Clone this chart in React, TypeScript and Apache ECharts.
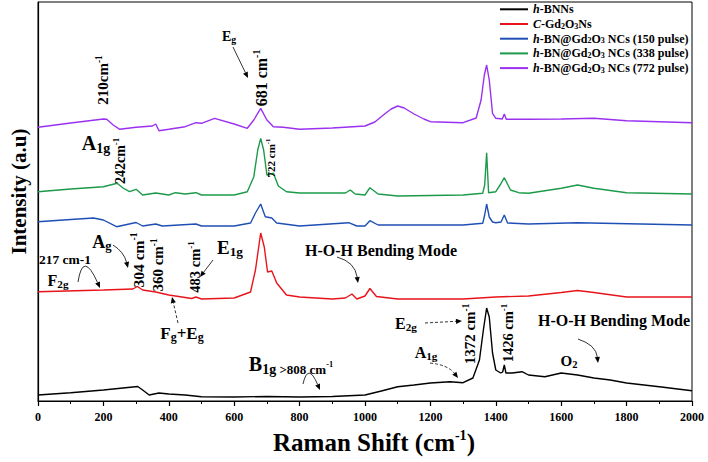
import React, { useEffect, useRef } from "react";
import * as echarts from "echarts";

const F = "'Liberation Serif','Times New Roman',serif";

// ---------- data (Raman shift in cm-1, stacked intensity in a.u.) ----------
const bnnsShift = [0, 100, 200, 290, 305, 320, 340, 370, 400, 450, 500, 600, 700, 800, 900, 1000, 1050, 1100, 1150, 1200, 1260, 1300, 1330, 1350, 1362, 1372, 1380, 1390, 1400, 1415, 1421, 1426, 1431, 1450, 1480, 1500, 1550, 1600, 1650, 1700, 1750, 1800, 1900, 2000];
const bnnsIntensity = [6, 8.3, 11, 14, 14.5, 11, 6, 8, 7, 6, 4.3, 4, 4.5, 4, 4.5, 6, 10, 14.3, 16, 18, 19.3, 18.3, 23, 41, 71, 93, 84, 48, 31, 28, 29, 36, 28, 28, 29.3, 26, 24.3, 28, 26, 23, 21, 18, 14.3, 10.3];

const gdShift = [0, 200, 290, 304, 320, 360, 400, 470, 483, 500, 600, 650, 665, 681, 692, 702, 715, 730, 760, 800, 900, 940, 960, 975, 1000, 1015, 1035, 1100, 1300, 1400, 1500, 1600, 1650, 1700, 1800, 2000];
const gdIntensity = [109.3, 111, 112, 114.5, 111, 109, 106, 102.5, 104, 102, 103, 109, 131, 168, 154, 129, 130, 118, 106, 104, 102, 103, 107, 102, 105, 112.5, 104.5, 102, 102, 104, 105, 108.5, 110.5, 108.5, 104, 104];

const p150Shift = [0, 100, 170, 200, 240, 300, 320, 360, 380, 483, 500, 600, 650, 665, 681, 695, 715, 730, 800, 950, 975, 1000, 1015, 1040, 1100, 1300, 1360, 1366, 1372, 1380, 1390, 1400, 1416, 1426, 1436, 1500, 1650, 2000];
const p150Intensity = [179.3, 181.5, 183, 181, 174.3, 178.5, 175, 177, 175, 177, 175, 175, 178, 188, 197, 184.3, 183, 178, 175, 178.3, 175, 175, 180.3, 176, 176, 176, 177.7, 186, 197, 184, 179, 178.3, 179, 186, 178, 177, 178.3, 176];

const p338Shift = [0, 100, 200, 242, 260, 280, 300, 320, 360, 400, 420, 450, 483, 500, 600, 640, 660, 672, 681, 690, 700, 720, 735, 760, 800, 940, 955, 970, 1000, 1015, 1040, 1100, 1300, 1360, 1366, 1372, 1378, 1400, 1415, 1426, 1445, 1470, 1500, 1600, 1650, 1700, 1800, 2000];
const p338Intensity = [209.3, 212, 214.3, 217.7, 213, 209.3, 211.7, 206, 208, 206, 208.3, 207, 208.3, 206, 206, 209.3, 224.3, 251, 262.7, 251, 226, 227.7, 215, 209.3, 208, 208, 211, 207, 206, 213.3, 207, 205, 206, 207.7, 216, 248.3, 208.3, 209.3, 217, 223.3, 211, 208.3, 207.7, 212.7, 216, 212.7, 208.3, 207];

const p772Shift = [0, 100, 200, 210, 230, 250, 300, 350, 360, 370, 400, 450, 483, 500, 540, 600, 640, 660, 681, 700, 720, 750, 800, 900, 1000, 1030, 1060, 1080, 1100, 1120, 1150, 1180, 1200, 1300, 1340, 1355, 1365, 1372, 1380, 1390, 1400, 1420, 1426, 1432, 1500, 1600, 1700, 1800, 2000];
const p772Intensity = [273.7, 278, 282, 281.7, 276, 271.7, 273.7, 275, 277, 270.3, 271.7, 274.3, 278.3, 277.7, 282.7, 277, 272.7, 281, 292.7, 281, 274.3, 273.7, 271.7, 273, 275, 279, 287, 292, 295, 293, 287, 282, 279.3, 278.3, 283, 301, 326, 336, 321, 287.7, 282.7, 282, 287, 281.7, 281.7, 282, 282.7, 280.3, 278.3];

const seriesNames = [
  "h-BNNs",
  "C-Gd2O3Ns",
  "h-BN@Gd2O3 NCs (150 pulse)",
  "h-BN@Gd2O3 NCs (338 pulse)",
  "h-BN@Gd2O3 NCs (772 pulse)",
];
const legendLabels = [
  "{i|h}{n|-BNNs}",
  "{i|C}{n|-Gd}{s|2}{n|O}{s|3}{n|Ns}",
  "{i|h}{n|-BN@Gd}{s|2}{n|O}{s|3}{n| NCs (150 pulse)}",
  "{i|h}{n|-BN@Gd}{s|2}{n|O}{s|3}{n| NCs (338 pulse)}",
  "{i|h}{n|-BN@Gd}{s|2}{n|O}{s|3}{n| NCs (772 pulse)}",
];
const seriesColors = ["#000000", "#e8141b", "#1f4fb5", "#1c9a4a", "#9b30f0"];
const xTicks = { min: 0, max: 2000, interval: 200 };

// ---------- annotation helpers ----------
function richFor(s: number) {
  const base = { fontWeight: "bold", fontFamily: F, fill: "#000", color: "#000" };
  return {
    n: { ...base, fontSize: s, lineHeight: s * 1.2 },
    sup: { ...base, fontSize: s * 0.62, lineHeight: s * 0.62, verticalAlign: "top" },
    sub: { ...base, fontSize: s * 0.7, lineHeight: s * 0.7, verticalAlign: "bottom" },
    sm: { ...base, fontSize: s * 0.65, lineHeight: s * 0.95, verticalAlign: "bottom" },
    smsup: { ...base, fontSize: s * 0.42, lineHeight: s * 0.42, verticalAlign: "middle" },
  };
}
function txt(x: number, y: number, text: string, size: number, rotate = false) {
  return {
    type: "text",
    x,
    y,
    rotation: rotate ? Math.PI / 2 : 0,
    z: 100,
    style: {
      text,
      fontSize: size,
      fontWeight: "bold",
      fontFamily: F,
      fill: "#000",
      align: "center",
      verticalAlign: "middle",
      rich: richFor(size),
    },
  };
}
function arrow(p0: number[], p1: number[], ctrl?: number[], dashed = false) {
  const from = ctrl || p0;
  const ang = Math.atan2(p1[1] - from[1], p1[0] - from[0]);
  const L = 6, W = 2.6;
  const bx = p1[0] - L * Math.cos(ang), by = p1[1] - L * Math.sin(ang);
  const head = [
    [p1[0], p1[1]],
    [bx + W * Math.sin(ang), by - W * Math.cos(ang)],
    [bx - W * Math.sin(ang), by + W * Math.cos(ang)],
  ];
  const lineStyle = { stroke: "#000", lineWidth: 0.8, lineDash: dashed ? [3, 2] : null, fill: null };
  const body = ctrl
    ? { type: "bezierCurve", z: 100, shape: { x1: p0[0], y1: p0[1], cpx1: ctrl[0], cpy1: ctrl[1], x2: bx, y2: by }, style: lineStyle }
    : { type: "line", z: 100, shape: { x1: p0[0], y1: p0[1], x2: bx, y2: by }, style: lineStyle };
  return [body, { type: "polygon", z: 100, shape: { points: head }, style: { fill: "#000" } }];
}

const annotations = [
  txt(103, 80, "{n|210cm}{sup|-1}", 15, true),
  txt(229, 36, "{n|E}{sub|g}", 14),
  txt(261, 78, "{n|681 cm}{sup|-1}", 16, true),
  txt(96, 143, "{n|A}{sub|1g}", 20),
  txt(120, 161, "{n|242cm}{sup|-1}", 14, true),
  txt(271, 158, "{n|722 cm}{sup|-1}", 11, true),
  txt(102, 242, "{n|A}{sub|g}", 18),
  txt(138, 260, "{n|304 cm}{sup|-1}", 15.5, true),
  txt(158, 265, "{n|360 cm}{sup|-1}", 15, true),
  txt(195, 267, "{n|483 cm}{sup|-1}", 14.5, true),
  txt(230, 247, "{n|E}{sub|1g}", 19),
  txt(65, 259, "{n|217 cm-1}", 13.5),
  txt(58, 280, "{n|F}{sub|2g}", 16),
  txt(182, 333, "{n|F}{sub|g}{n|+E}{sub|g}", 17),
  txt(381, 250, "{n|H-O-H Bending Mode}", 16),
  txt(291, 364, "{n|B}{sub|1g}{sm| >808 cm}{smsup|-1}", 20),
  txt(406, 323, "{n|E}{sub|2g}", 16),
  txt(426, 352, "{n|A}{sub|1g}", 16),
  txt(470, 334, "{n|1372 cm}{sup|-1}", 15, true),
  txt(508, 333, "{n|1426 cm}{sup|-1}", 14.5, true),
  txt(614, 320, "{n|H-O-H Bending Mode}", 16),
  txt(569, 361, "{n|O}{sub|2}", 15),
  ...arrow([233, 47], [248, 78]),
  ...arrow([113, 245], [128, 268], [124, 252]),
  ...arrow([213, 260], [200, 277]),
  ...arrow([78, 282], [100, 288], [83, 250]),
  ...arrow([178, 323], [172, 297], undefined, true),
  ...arrow([337, 257], [358, 283], [355, 262]),
  ...arrow([303, 384], [320, 390], [308, 362]),
  ...arrow([425, 323], [462, 321], undefined, true),
  ...arrow([430, 363], [458, 378], [448, 365], true),
  ...arrow([578, 339], [598, 363], [596, 345]),
];

const lists = [
  [bnnsShift, bnnsIntensity],
  [gdShift, gdIntensity],
  [p150Shift, p150Intensity],
  [p338Shift, p338Intensity],
  [p772Shift, p772Intensity],
];

export default function App() {
  const ref = useRef<HTMLDivElement>(null);
  useEffect(() => {
    if (!ref.current) return;
    const chart = echarts.init(ref.current, null, { renderer: "svg" });
    const legendRich = {
      n: { fontSize: 12, fontWeight: "bold", fontFamily: F, color: "#000", lineHeight: 12 },
      i: { fontSize: 12, fontWeight: "bold", fontStyle: "italic", fontFamily: F, color: "#000", lineHeight: 12 },
      s: { fontSize: 8, fontWeight: "bold", fontFamily: F, color: "#000", lineHeight: 8, verticalAlign: "bottom" },
    };
    chart.setOption({
      animation: false,
      backgroundColor: "#fff",
      grid: { left: 33, right: 16, top: 2, bottom: 61, show: true, borderColor: "#000", borderWidth: 1, backgroundColor: "transparent" },
      legend: {
        show: true,
        orient: "vertical",
        left: 500,
        top: 3.3,
        itemWidth: 28,
        itemHeight: 2,
        itemGap: 2.7,
        icon: "rect",
        padding: 0,
        data: seriesNames,
        formatter: (name: string) => legendLabels[seriesNames.indexOf(name)],
        textStyle: { rich: legendRich, fontFamily: F, fontWeight: "bold", fontSize: 12, color: "#000" },
      },
      xAxis: {
        type: "value",
        min: xTicks.min,
        max: xTicks.max,
        interval: xTicks.interval,
        name: "{n|Raman Shift (cm}{sup|-1}{n|)}",
        nameLocation: "middle",
        nameGap: 27,
        nameTextStyle: {
          padding: [0, 0, 0, 18],
          rich: {
            n: { fontSize: 25, fontWeight: "bold", fontFamily: F, color: "#000", lineHeight: 28 },
            sup: { fontSize: 14, fontWeight: "bold", fontFamily: F, color: "#000", lineHeight: 14, verticalAlign: "top" },
          },
        },
        axisLine: { show: true, lineStyle: { color: "#000", width: 1.2 } },
        axisTick: { show: true, inside: false, length: 5, lineStyle: { color: "#000", width: 1.2 } },
        minorTick: { show: true, splitNumber: 2, length: 3, lineStyle: { color: "#000", width: 1 } },
        axisLabel: { color: "#000", fontFamily: F, fontWeight: "bold", fontSize: 12, margin: 10, formatter: (v: number) => String(v) },
        splitLine: { show: false },
      },
      yAxis: {
        type: "value",
        min: 0,
        max: 399,
        name: "Intensity (a.u)",
        nameLocation: "middle",
        nameGap: 9,
        nameTextStyle: { fontSize: 21, fontWeight: "bold", fontFamily: F, color: "#000", padding: [0, 0, 0, 20] },
        axisLine: { show: true, lineStyle: { color: "#000", width: 1.2 } },
        axisTick: { show: false },
        axisLabel: { show: false },
        splitLine: { show: false },
      },
      series: lists.map(([xs, ys], k) => ({
        type: "line",
        name: seriesNames[k],
        data: xs.map((x, j) => [x, ys[j]]),
        showSymbol: false,
        symbol: "none",
        color: seriesColors[k],
        lineStyle: { color: seriesColors[k], width: 1.4 },
      })),
      graphic: annotations,
    });
    return () => chart.dispose();
  }, []);
  return <div ref={ref} style={{ width: 708, height: 462, position: "absolute", left: 0, top: 0 }} />;
}
